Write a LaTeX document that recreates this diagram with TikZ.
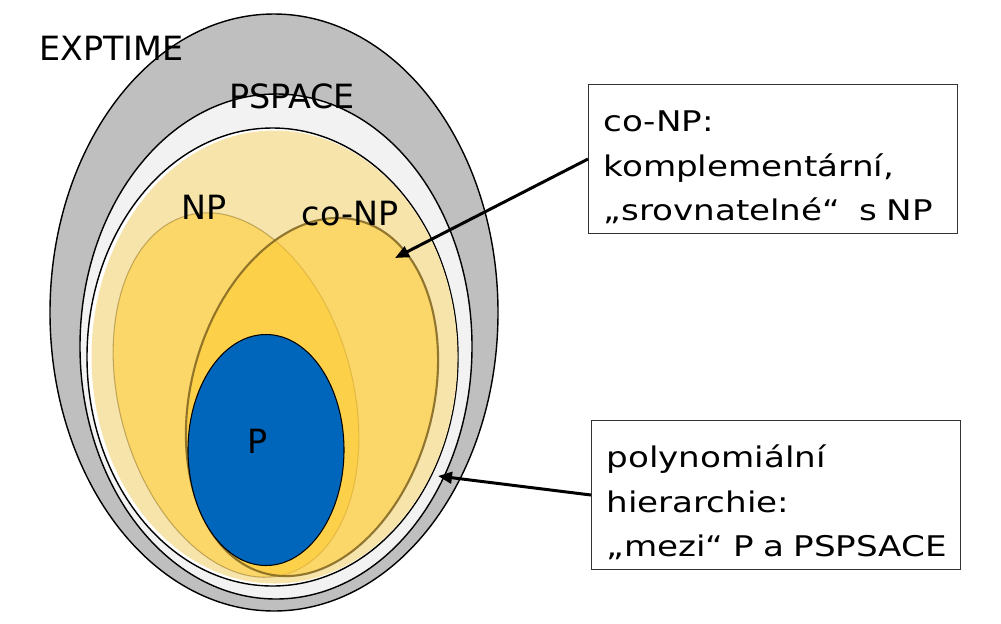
\documentclass[tikz,border=0pt]{standalone}
\usepackage{fontspec}
\setmainfont{DejaVu Sans}
\newfontfamily\notefont{DejaVu Sans}[FakeStretch=1.2]
\usepackage{tikz}
\usetikzlibrary{arrows.meta}

\definecolor{expgray}{HTML}{BFBFBF}
\definecolor{psgray}{HTML}{F2F2F2}
\definecolor{phyellow}{HTML}{F7E4AA}
\definecolor{npyellow}{HTML}{FFCC33}
\definecolor{npline}{HTML}{7F6420}
\definecolor{pblue}{HTML}{0066BB}
\newcommand{\notesetup}{\notefont\fontsize{16.2}{25.5}\selectfont
  \hyphenpenalty=10000\relax\exhyphenpenalty=10000\relax
  \hbadness=10000\relax\hfuzz=2cm\relax}
\newcommand{\notestrut}{\rule{0pt}{0.75cm}}

\begin{document}
\begin{tikzpicture}[x=0.02cm, y=-0.02cm, >={Triangle[length=2.8mm, width=2.3mm]},
  set/.style={draw=black, line width=0.8pt},
  lbl/.style={anchor=base, inner sep=0pt, font=\fontsize{19}{23}\selectfont},
  note/.style={draw=black!80, line width=0.6pt, anchor=north west, align=left,
               minimum width=7.38cm, minimum height=2.98cm, text width=6.78cm,
               inner xsep=0.3cm, font=\notesetup},
  pointer/.style={->, line width=1.7pt}]
  \useasboundingbox (0,0) rectangle (1001,623);
  % nested classes
  \draw[set, fill=expgray] (274,312.5) ellipse (224 and 298.5);
  \draw[set, fill=psgray] (276,346.5) ellipse (196 and 252.5);
  \draw[set, fill=white] (272.5,357) ellipse (185.5 and 229);
  \fill[phyellow] (274.5,357) ellipse (183 and 226.5);
  % NP and co-NP
  \draw[fill=npyellow, fill opacity=0.55, draw=npline, draw opacity=0.45, line width=0.6pt,
        rotate around={15:(236,395)}] (236,395) ellipse (117 and 186);
  \draw[fill=npyellow, fill opacity=0.55, draw=npline, draw opacity=0.85, line width=1.2pt,
        rotate around={-15:(312,397)}] (312,397) ellipse (121 and 182.5);
  % P
  \draw[fill=pblue, draw=black, line width=0.6pt] (266,450) ellipse (78 and 115.5);
  % labels
  \node[lbl] (explbl) at (111.5,60) {EXPTIME};
  \node[lbl] (pslbl) at (292,108) {PSPACE};
  \node[lbl] (nplbl) at (204,219) {NP};
  \node[lbl] (conplbl) at (350,225) {co-NP};
  \node[lbl] (plbl) at (257.5,453) {P};
  % notes
  \node[note] (conpnote) at (588,84)
    {\notestrut co-NP:\\ komplementární,\\ \mbox{„srovnatelné“\ \ s NP}};
  \node[note] (phnote) at (591,420)
    {\notestrut polynomiální\\ hierarchie:\\ \mbox{„mezi“ P a PSPSACE}};
  \coordinate (conptip) at (395,258);
  \coordinate (phtip) at (438,476);
  \draw[pointer] (conpnote.west) -- (conptip);
  \draw[pointer] (phnote.west) -- (phtip);
\end{tikzpicture}
\end{document}
